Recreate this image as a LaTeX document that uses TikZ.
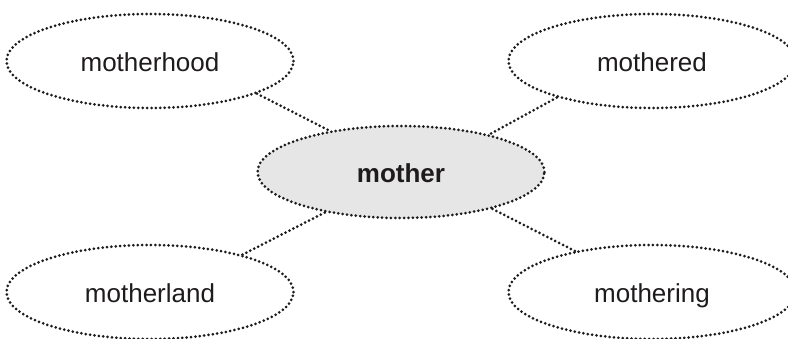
\documentclass[tikz,border=0pt]{standalone}
\usepackage{fontspec}
\setmainfont{Liberation Sans}
\usetikzlibrary{shapes.geometric}
\definecolor{ink}{RGB}{30,27,28}
\definecolor{centrefill}{RGB}{230,230,230}
\tikzset{
  dots/.style={draw=ink, line width=3pt, line cap=round, dash pattern=on 0pt off 4.4pt},
  word/.style={ellipse, dots, minimum width=287pt, minimum height=94pt, inner sep=0pt,
    text height=20pt, text depth=0pt,
    text=ink, font=\fontsize{26}{30}\selectfont},
  hub/.style={word, fill=centrefill, minimum height=92pt, font=\fontsize{26}{30}\selectfont\bfseries},
  link/.style={dots}
}
\begin{document}
\begin{tikzpicture}[x=1pt,y=-1pt]
\useasboundingbox (0,0) rectangle (788,338);
\node[hub] (m) at (401,172) {mother};
\node[word] (hood) at (150,61) {motherhood};
\node[word] (ed) at (652,61) {mothered};
\node[word] (land) at (150,292) {motherland};
\node[word] (ing) at (652,292) {mothering};
\draw[link] (hood.-17.4) -- (m.150.6);
\draw[link] (ed.201.3) -- (m.23.7);
\draw[link] (land.22.3) -- (m.208.4);
\draw[link] (ing.152.5) -- (m.-22.5);
\end{tikzpicture}
\end{document}
